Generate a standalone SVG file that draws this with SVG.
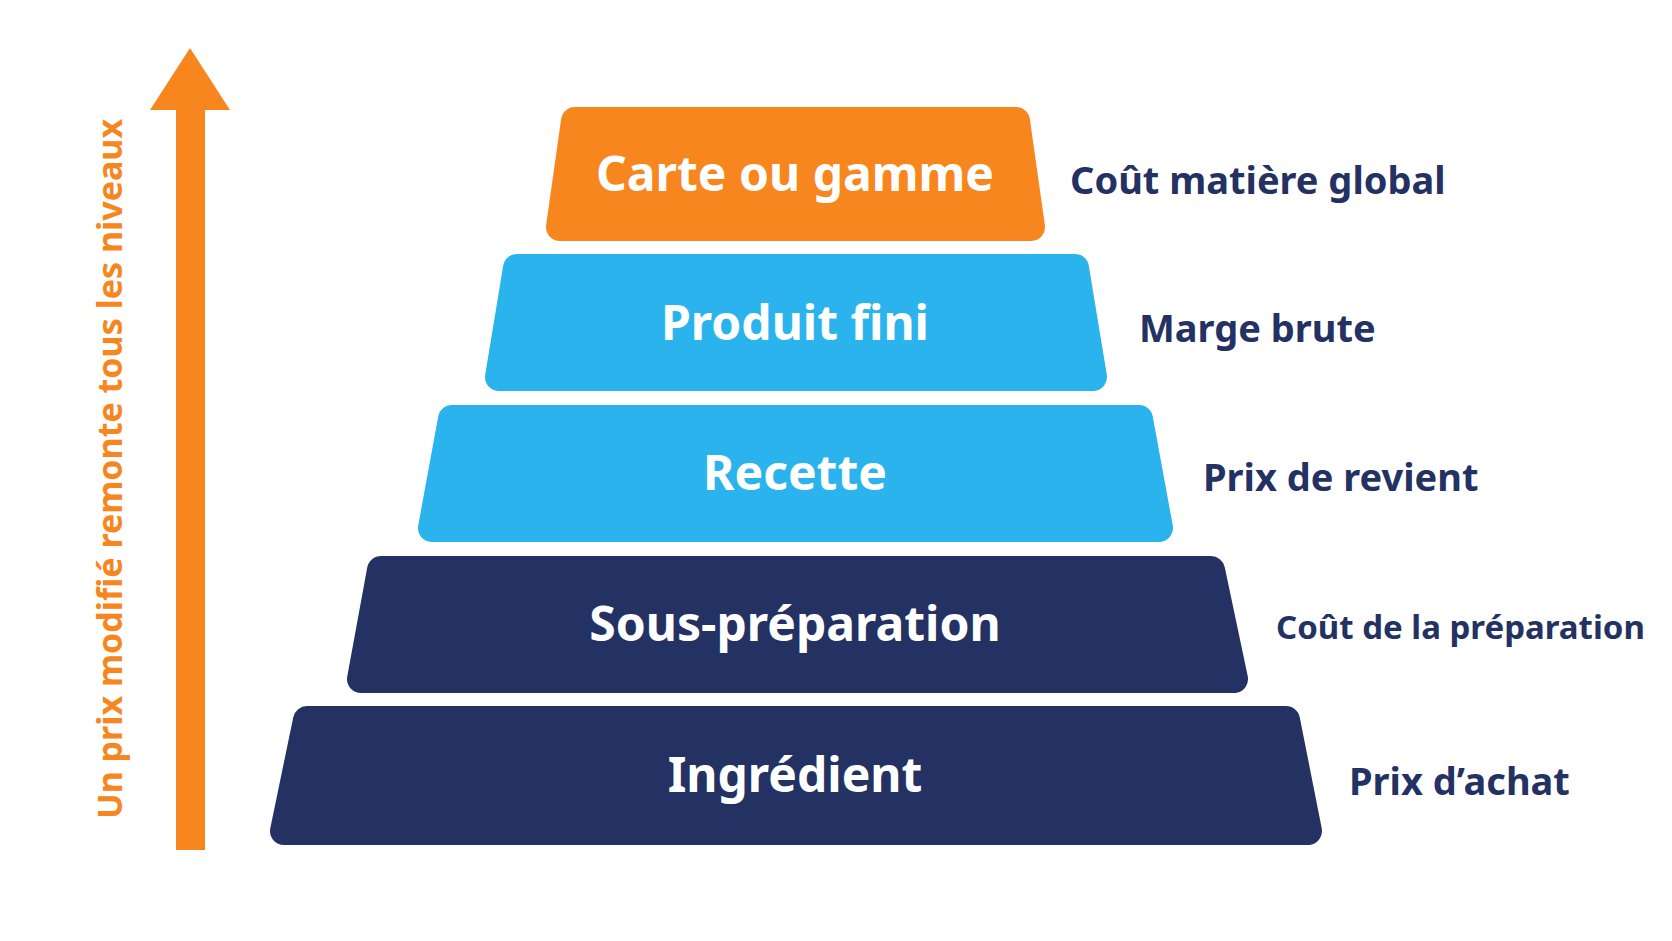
<svg xmlns="http://www.w3.org/2000/svg" width="1672" height="941" viewBox="0 0 1672 941">
<style>
.t{font-family:"Noto Sans","Liberation Sans",sans-serif;font-weight:700;fill:#fff;font-size:48px;text-anchor:middle}
.l{font-family:"Noto Sans","Liberation Sans",sans-serif;font-weight:700;fill:#233163;font-size:38px}
.o{fill:#F7861F;stroke:#F7861F}.b{fill:#2AB3EC;stroke:#2AB3EC}.n{fill:#233163;stroke:#233163}
polygon{stroke-width:28;stroke-linejoin:round}
</style>
<rect width="1672" height="941" fill="#fff"/>
<g id="arrow"><rect x="176" y="105" width="29" height="745" fill="#F7861F"/><polygon points="190,48 230,110 150,110" fill="#F7861F" stroke="none"/>
<text transform="translate(122,469) rotate(-90)" text-anchor="middle" style="font-family:'Noto Sans','Liberation Sans',sans-serif;font-weight:700;font-size:34px;fill:#F7861F">Un prix modifié remonte tous les niveaux</text></g>
<g id="n1"><polygon class="o" points="575,121 1016,121 1031,227 560,227"/><text class="t" x="795" y="191">Carte ou gamme</text></g>
<g id="n2"><polygon class="b" points="517,268 1075,268 1093,377 499,377"/><text class="t" x="795" y="340">Produit fini</text></g>
<g id="n3"><polygon class="b" points="452,419 1139,419 1159,528 432,528"/><text class="t" x="795" y="490">Recette</text></g>
<g id="n4"><polygon class="n" points="381,570 1211,570 1234,679 361,679"/><text class="t" x="795" y="641">Sous-préparation</text></g>
<g id="n5"><polygon class="n" points="307,720 1286,720 1308,831 284,831"/><text class="t" x="795" y="792">Ingrédient</text></g>
<g id="labels">
<text class="l" x="1070" y="194">Coût matière global</text>
<text class="l" x="1139" y="342">Marge brute</text>
<text class="l" x="1203" y="491">Prix de revient</text>
<text class="l" x="1276" y="639" style="font-size:33px">Coût de la préparation</text>
<text class="l" x="1349" y="795">Prix d’achat</text>
</g>
</svg>
